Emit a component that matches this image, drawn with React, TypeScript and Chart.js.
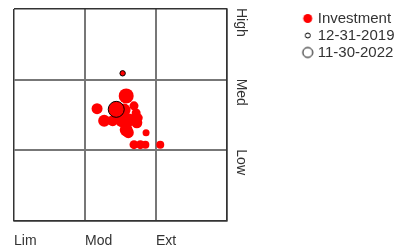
import React, { useEffect, useRef } from "react";
import { Chart, registerables } from "chart.js";

Chart.register(...registerables);

const xLabels = ["Lim", "Mod", "Ext"];
const yLabels = ["Low", "Med", "High"];

const investLabel = "Investment";
const investX = [1.17, 1.58, 1.69, 1.72, 1.75, 1.27, 1.39, 1.52, 1.62, 1.73, 1.58, 1.61, 1.86, 1.69, 1.78, 1.85, 2.06, 1.55];
const investY = [1.59, 1.77, 1.63, 1.53, 1.46, 1.42, 1.42, 1.42, 1.43, 1.39, 1.29, 1.25, 1.25, 1.08, 1.08, 1.08, 1.08, 1.57];
const investR = [5.5, 7.5, 4.5, 4.5, 4.5, 6, 5.5, 6.5, 6.5, 5.5, 6.5, 5.5, 3.5, 4.5, 4.5, 4, 4, 6.5];

const markerLabels = ["12-31-2019", "11-30-2022"];
const markerX = [1.53, 1.44];
const markerY = [2.09, 1.58];
const markerR = [2.7, 8];
const legendR = [2.5, 5];

const FONT = "'Liberation Sans', Arial, sans-serif";
const TEXT = "#333333";
const PLOT_RIGHT = 227;
const PSW = 7;
const FS = 15;
const DOT_OFF = 1;
const RIGHT_PAD = 8;

function makeDot(r: number, fill: string, stroke: string | null) {
  const c = document.createElement("canvas");
  const w = 24;
  const h = Math.ceil(r * 2 + 4);
  c.width = w;
  c.height = h;
  const ctx = c.getContext("2d")!;
  ctx.beginPath();
  ctx.arc(w / 2 + DOT_OFF, h / 2, r, 0, Math.PI * 2);
  ctx.fillStyle = fill;
  ctx.fill();
  if (stroke) {
    ctx.lineWidth = 1;
    ctx.strokeStyle = stroke;
    ctx.stroke();
  }
  return c;
}

const rightLabels = {
  id: "rightLabels",
  afterDraw(chart: any) {
    const y = chart.scales.y;
    const ctx = chart.ctx;
    ctx.save();
    ctx.font = `14px ${FONT}`;
    ctx.fillStyle = TEXT;
    ctx.textAlign = "left";
    ctx.textBaseline = "middle";
    yLabels.forEach((lab, i) => {
      const top = y.getPixelForValue(i + 1);
      ctx.save();
      ctx.translate(chart.chartArea.right + 14, top - 1);
      ctx.rotate(Math.PI / 2);
      ctx.fillText(lab, 0, 0);
      ctx.restore();
    });
    ctx.restore();
  },
};

export default function App() {
  const ref = useRef<HTMLCanvasElement>(null);
  useEffect(() => {
    document.body.style.margin = "0";
    const datasets: any[] = [];
    markerLabels.forEach((lab, i) => {
      datasets.push({
        label: lab,
        data: [{ x: markerX[i], y: markerY[i], r: markerR[i] }],
        backgroundColor: "#ff0000",
        borderColor: "#000000",
        borderWidth: 1,
        hoverRadius: 0,
      });
    });
    datasets.push({
      label: investLabel,
      data: investX.map((x, i) => ({ x, y: investY[i], r: investR[i] })),
      backgroundColor: "#ff0000",
      borderWidth: 0,
      hoverRadius: 0,
    });

    const legendItems = [
      { text: investLabel, pointStyle: makeDot(4.5, "#ff0000", null), datasetIndex: 2 },
      { text: markerLabels[0], pointStyle: makeDot(legendR[0], "#ffffff", "#000000"), datasetIndex: 0 },
      { text: markerLabels[1], pointStyle: makeDot(legendR[1], "#ffffff", "#000000"), datasetIndex: 1 },
    ];

    const edge = (c: any) => c.tick && (c.tick.value === 0 || c.tick.value === 3);

    const chart = new Chart(ref.current!, {
      type: "bubble",
      data: { datasets },
      plugins: [rightLabels],
      options: {
        animation: false,
        responsive: true,
        maintainAspectRatio: false,
        events: [],
        layout: { padding: { left: 14, top: 9, right: RIGHT_PAD, bottom: 0 } },
        plugins: {
          tooltip: { enabled: false },
          legend: {
            position: "right",
            align: "start",
            labels: {
              usePointStyle: true,
              pointStyleWidth: PSW,
              boxHeight: 10,
              padding: 2,
              color: TEXT,
              font: { family: FONT, size: FS },
              generateLabels: () =>
                legendItems.map((it) => ({
                  text: it.text,
                  pointStyle: it.pointStyle as any,
                  fillStyle: "#ff0000",
                  strokeStyle: "#000",
                  lineWidth: 0,
                  hidden: false,
                  datasetIndex: it.datasetIndex,
                  fontColor: TEXT,
                })),
            },
          },
        },
        scales: {
          x: {
            type: "linear",
            position: "bottom",
            min: 0,
            max: 3,
            afterBuildTicks: (s: any) => {
              s.ticks = [0, 1, 2, 3].map((v) => ({ value: v }));
            },
            afterFit: (s: any) => {
              s.height = 25;
            },
            ticks: {
              align: "start",
              padding: 12,
              color: TEXT,
              font: { family: FONT, size: 14 },
              maxRotation: 0,
              minRotation: 0,
              autoSkip: false,
              callback: (v: any) => xLabels[v] ?? "",
            },
            grid: {
              drawTicks: false,
              color: (c: any) => (edge(c) ? "#333333" : "#777777"),
              lineWidth: (c: any) => (edge(c) ? 1.5 : 2),
            },
            border: { display: true, color: "#333333", width: 1.5 },
          },
          y: {
            type: "linear",
            position: "right",
            min: 0,
            max: 3,
            afterBuildTicks: (s: any) => {
              s.ticks = [0, 1, 2, 3].map((v) => ({ value: v }));
            },
            afterFit: (s: any) => {
              const lg = s.chart.legend;
              const lw = lg && lg.width ? lg.width : 100;
              s.width = Math.max(0, s.chart.width - PLOT_RIGHT - lw - RIGHT_PAD);
            },
            ticks: { display: false },
            grid: {
              drawTicks: false,
              color: (c: any) => (edge(c) ? "#333333" : "#777777"),
              lineWidth: (c: any) => (edge(c) ? 1.5 : 2),
            },
            border: { display: true, color: "#333333", width: 1.5 },
          },
        },
      } as any,
    });
    return () => chart.destroy();
  }, []);
  return (
    <div style={{ width: 405, height: 246, position: "relative" }}>
      <canvas ref={ref} />
    </div>
  );
}
